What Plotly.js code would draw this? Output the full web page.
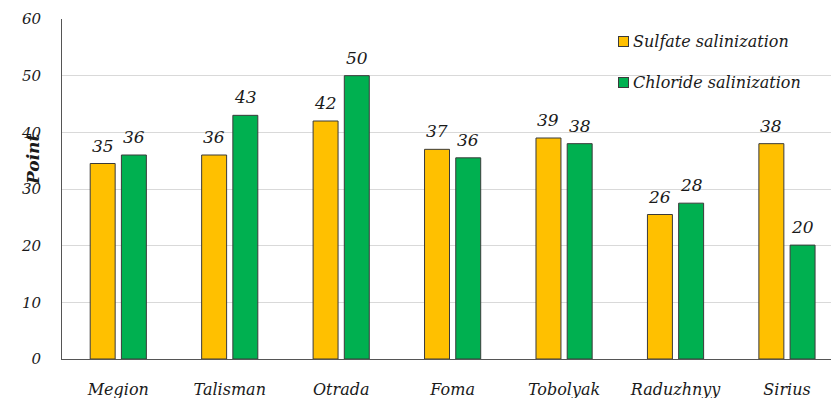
<!DOCTYPE html>
<html>
<head>
<meta charset="utf-8">
<script src="https://cdn.plot.ly/plotly-3.0.1.min.js"></script>
</head>
<body style="margin:0">
<div id="chart"></div>
<script>
// Varieties on the category axis
const varieties = ["Megion", "Talisman", "Otrada", "Foma", "Tobolyak", "Raduzhnyy", "Sirius"];

// Scores (points) under each salinization type
const sulfatePoints  = [34.5, 36, 42, 37, 39, 25.5, 38];
const chloridePoints = [36, 43, 50, 35.5, 38, 27.5, 20.1];

const seriesNames = ["Sulfate salinization", "Chloride salinization"];
const seriesColors = ["#FFC000", "#00B050"];
const yTicks = [0, 10, 20, 30, 40, 50, 60];

const edge = "#3a3a3a";

function italic(size) {
  return { family: "DejaVu Serif", size: size, style: "italic", color: "#1a1a1a" };
}

const traces = [sulfatePoints, chloridePoints].map((vals, si) => ({
  type: "bar",
  name: seriesNames[si],
  x: varieties,
  y: vals,
  marker: { color: seriesColors[si], line: { color: edge, width: 1 } },
  hoverinfo: "none"
}));

// Value labels above each bar, rounded to whole points
const groupShift = 15.6;
const notes = [];
[sulfatePoints, chloridePoints].forEach((vals, si) => {
  vals.forEach((v, i) => {
    notes.push({
      x: varieties[i], y: v, xref: "x", yref: "y",
      xshift: si === 0 ? -groupShift : groupShift,
      yshift: 6,
      yanchor: "bottom",
      text: Math.round(v).toString(),
      showarrow: false,
      font: italic(17)
    });
  });
});

// Rotated axis caption
notes.push({
  xref: "paper", yref: "paper",
  x: (21 - 62) / 769, y: (359 - 160) / 340,
  text: "<b>Point</b>",
  textangle: -90,
  showarrow: false,
  font: italic(17)
});

// Legend: colour swatch followed by series name
const legendRows = [42, 82];
seriesNames.forEach((nm, si) => {
  const yp = (359 - legendRows[si]) / 340;
  notes.push({
    xref: "paper", yref: "paper",
    x: (623 - 62) / 769, y: yp, xanchor: "center", yanchor: "middle",
    text: "", width: 9, height: 9,
    bgcolor: seriesColors[si], bordercolor: edge, borderwidth: 1, borderpad: 0,
    showarrow: false
  });
  notes.push({
    xref: "paper", yref: "paper",
    x: (632 - 62) / 769, y: yp, xanchor: "left", yanchor: "middle",
    text: nm,
    showarrow: false, borderpad: 0,
    font: italic(16)
  });
});

const layout = {
  width: 831,
  height: 398,
  margin: { l: 62, r: 0, t: 19, b: 39 },
  barmode: "group",
  bargap: 0.44,
  bargroupgap: 0.2,
  showlegend: false,
  xaxis: {
    type: "category",
    range: [-0.505, 6.395],
    showgrid: false,
    showline: true,
    linecolor: "#555",
    linewidth: 1,
    ticks: "",
    ticklabelstandoff: 16,
    tickfont: italic(16),
    fixedrange: true
  },
  yaxis: {
    range: [0, 60],
    tickvals: yTicks,
    showgrid: true,
    gridcolor: "#d9d9d9",
    gridwidth: 1,
    zeroline: false,
    showline: true,
    linecolor: "#555",
    linewidth: 1,
    ticks: "",
    ticklabelstandoff: 17,
    tickfont: italic(15),
    fixedrange: true
  },
  annotations: notes
};

Plotly.newPlot("chart", traces, layout, { displayModeBar: false });
</script>
</body>
</html>
